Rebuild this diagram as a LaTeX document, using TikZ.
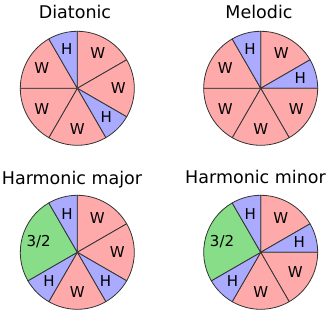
\documentclass[tikz,border=0pt]{standalone}
\usepackage{fontspec}
\setmainfont{DejaVu Sans}
\usepackage{tikz}

\definecolor{wholepink}{HTML}{FFAAAA}
\definecolor{halfblue}{HTML}{AAAAFF}
\definecolor{gapgreen}{HTML}{88DD88}
\definecolor{rimgray}{HTML}{333333}

\tikzset{
    W/.style={fill=wholepink},
    H/.style={fill=halfblue},
    T/.style={fill=gapgreen},
    slice/.style={draw=rimgray, line width=0.8pt, line join=round},
    steplabel/.style={font=\fontsize{15}{17}\selectfont},
    title/.style={font=\fontsize{17.5}{20}\selectfont, anchor=base}
}

\begin{document}
\begin{tikzpicture}[x=1pt, y=1pt]
        \useasboundingbox (0,0) rectangle (330,315);
        % Titles
        \node[title] (diatonic) at (75,296) {Diatonic};
        \node[title] (melodic) at (259,296) {Melodic};
        \node[title] (hmajor) at (72,130.5) {Harmonic major};
        \node[title] (hminor) at (255.5,131.3) {Harmonic minor};
        % Diatonic pie
        \begin{scope}[shift={(77.3,226.7)}]
            \foreach \a/\b/\s [count=\i] in {90/30/W, 30/-30/W, -30/-60/H, -60/-120/W,
                    -120/-180/W, 180/120/W, 120/90/H}
            {
                \filldraw[slice, \s] (0,0) -- (\a:57) arc[start angle=\a, end angle=\b, radius=57] -- cycle;
                \node[steplabel] (dia\i) at ({(\a+\b)/2}:41) {\s};
            }
        \end{scope}
        % Melodic pie
        \begin{scope}[shift={(260.7,226.7)}]
            \foreach \a/\b/\s [count=\i] in {90/30/W, 30/0/H, 0/-60/W, -60/-120/W,
                    -120/-180/W, 180/120/W, 120/90/H}
            {
                \filldraw[slice, \s] (0,0) -- (\a:57) arc[start angle=\a, end angle=\b, radius=57] -- cycle;
                \node[steplabel] (mel\i) at ({(\a+\b)/2}:41) {\s};
            }
        \end{scope}
        % Harmonic major pie
        \begin{scope}[shift={(77.3,62.7)}]
            \foreach \a/\b/\s [count=\i] in {90/30/W, 30/-30/W, -30/-60/H, -60/-120/W,
                    -120/-150/H, 210/120/T, 120/90/H}
            {
                \filldraw[slice, \s] (0,0) -- (\a:57) arc[start angle=\a, end angle=\b, radius=57] -- cycle;
                \node[steplabel] (hma\i) at ({(\a+\b)/2}:40) {\if T\s 3/2\else\s\fi};
            }
        \end{scope}
        % Harmonic minor pie
        \begin{scope}[shift={(260.7,62.7)}]
            \foreach \a/\b/\s [count=\i] in {90/30/W, 30/0/H, 0/-60/W, -60/-120/W,
                    -120/-150/H, 210/120/T, 120/90/H}
            {
                \filldraw[slice, \s] (0,0) -- (\a:57) arc[start angle=\a, end angle=\b, radius=57] -- cycle;
                \node[steplabel] (hmi\i) at ({(\a+\b)/2}:40) {\if T\s 3/2\else\s\fi};
            }
        \end{scope}
\end{tikzpicture}
\end{document}
